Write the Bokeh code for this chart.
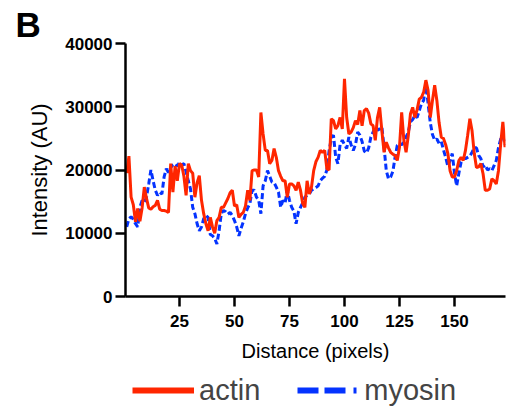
from bokeh.plotting import figure
from bokeh.layouts import column
from bokeh.models import Range1d, FixedTicker, Legend, LegendItem
from bokeh.embed import file_html
from bokeh.resources import INLINE

distance = list(range(1, 174))
actin = [
    19500, 22200, 15700, 14500, 11800, 13900, 11900, 14000, 17300, 15500,
    14000, 13800, 14200, 14400, 15200, 13800, 13600, 13600, 13500, 13300,
    21000, 16500, 20600, 18300, 21000, 20800, 19000, 16000, 21000, 19900,
    19500, 15700, 18000, 19100, 15200, 13100, 11500, 10400, 12500, 11000,
    10000, 12000, 12500, 14100, 14100, 14800, 15500, 16400, 16800, 14300,
    14500, 12500, 13000, 13300, 14300, 16800, 15200, 19900, 20000, 20000,
    18900, 29100, 25700, 23100, 23100, 21000, 21500, 23400, 22000, 19900,
    19000, 18300, 18300, 15700, 17800, 17800, 17500, 16800, 18100, 16800,
    14700, 14100, 18300, 16200, 17300, 19900, 21300, 22000, 23100, 22800,
    23100, 20200, 20000, 28100, 27800, 26500, 27000, 28300, 26500, 34400,
    28300, 25700, 26000, 26700, 27800, 27200, 29400, 27000, 29400, 29700,
    29000, 27300, 27000, 24700, 28300, 29900, 26200, 22800, 24400, 23500,
    22800, 22500, 22300, 21500, 23600, 29100, 24700, 22800, 25400, 28900,
    29900, 28300, 29500, 31200, 31500, 32300, 34200, 32600, 28300, 31000,
    33400, 31000, 27500, 25200, 25000, 24000, 22600, 19900, 18900, 18900,
    19900, 21500, 22000, 21500, 23100, 25500, 28100, 26200, 22600, 20400,
    20500, 21000, 19400, 16800, 16800, 17000, 18600, 18300, 17800, 19900,
    24100, 27600, 23600,
]
myosin = [
    11000, 12300, 12600, 12200, 11500, 11000, 14100, 15200, 14900, 15700,
    17800, 20000, 18300, 16800, 16000, 16500, 16200, 18900, 20200, 19600,
    20400, 20800, 21000, 20600, 21200, 20800, 21000, 19700, 18300, 17000,
    14100, 13100, 11500, 10400, 11000, 12300, 12800, 12500, 9800, 9600,
    9200, 8300, 10400, 13100, 13600, 13400, 13000, 13300, 12800, 12000,
    11000, 9600, 10800, 11800, 13100, 14000, 14700, 16800, 16800, 15700,
    15200, 13100, 17500, 18300, 19900, 19000, 18100, 18000, 17300, 16500,
    14100, 15200, 14800, 16800, 15200, 14100, 13500, 11500, 13300, 14100,
    14800, 15700, 16000, 16200, 16800, 17000, 17200, 17500, 18300, 18700,
    19000, 20000, 23000, 25000, 25500, 22000, 21000, 24000, 24700, 24000,
    23400, 25200, 24000, 23100, 24000, 26000, 25500, 24500, 23000, 22700,
    23500, 25200, 26000, 26800, 26300, 26500, 26800, 23600, 19900, 18600,
    18900, 19800, 22000, 23900, 24200, 24000, 24400, 25200, 26000, 27600,
    28000, 28600, 28300, 29400, 30500, 31000, 33900, 30500, 27500, 25600,
    24700, 24900, 24200, 24500, 23200, 22000, 20600, 21500, 22600, 19500,
    17500, 19500, 21200, 21800, 21800, 22000, 22200, 22800, 23500, 23500,
    22300, 21800, 20500, 20800, 20000, 20200, 19900, 20700, 21500, 23500,
    24900, 25400, 24000,
]
x_ticks = [25, 50, 75, 100, 125, 150]
y_ticks = [0, 10000, 20000, 30000, 40000]
series_names = ["actin", "myosin"]

RED = "#FF2600"
BLUE = "#0433FF"
FONT = "Liberation Sans"
NAN = float("nan")

p = figure(width=507, height=368, output_backend="svg", toolbar_location=None,
           x_range=Range1d(0.45, 173.2), y_range=Range1d(0, 40000),
           min_border_left=125, min_border_right=2, min_border_top=43, min_border_bottom=72)
p.outline_line_color = None
p.xgrid.visible = False
p.ygrid.visible = False
p.background_fill_color = "white"
p.border_fill_color = "white"

p.title.text = "B"
p.title.align = "left"
p.title.offset = -110
p.title.standoff = 0
p.title.text_font = FONT
p.title.text_font_style = "bold"
p.title.text_font_size = "35px"
p.title.text_color = "black"

p.line(distance, myosin, line_color=BLUE, line_width=3, line_dash="6 3")
p.line(distance, actin, line_color=RED, line_width=3)

for ax in (p.xaxis[0], p.yaxis[0]):
    ax.axis_line_width = 2.5
    ax.axis_line_color = "black"
    ax.major_tick_line_width = 2.5
    ax.major_tick_line_color = "black"
    ax.major_tick_out = 10
    ax.major_tick_in = 0
    ax.minor_tick_out = 0
    ax.minor_tick_in = 0
    ax.major_label_text_font = FONT
    ax.major_label_text_font_style = "bold"
    ax.major_label_text_font_size = "17px"
    ax.major_label_text_color = "black"
    ax.axis_label_text_font = FONT
    ax.axis_label_text_font_style = "normal"
    ax.axis_label_text_color = "black"

p.xaxis.ticker = FixedTicker(ticks=x_ticks)
p.yaxis.ticker = FixedTicker(ticks=y_ticks)
p.yaxis.major_label_overrides = {t: str(t) for t in y_ticks}
p.xaxis.axis_label = "Distance (pixels)"
p.yaxis.axis_label = "Intensity (AU)"
p.xaxis.axis_label_text_font_size = "20px"
p.yaxis.axis_label_text_font_size = "22px"
p.xaxis.major_label_standoff = 8
p.yaxis.major_label_standoff = 3
p.xaxis.axis_label_standoff = 10
p.yaxis.axis_label_standoff = 10

# legend strip below the chart
lg = figure(width=507, height=40, output_backend="svg", toolbar_location=None,
            x_range=Range1d(0, 1), y_range=Range1d(0, 1),
            x_axis_location=None, y_axis_location=None,
            min_border_left=0, min_border_right=0, min_border_top=0, min_border_bottom=0)
lg.outline_line_color = None
lg.xgrid.visible = False
lg.ygrid.visible = False
lg.background_fill_color = "white"
lg.border_fill_color = "white"
l_ac = lg.line([NAN], [NAN], line_color=RED, line_width=6)
l_my = lg.line([NAN], [NAN], line_color=BLUE, line_width=6, line_dash="21 6 21 8 3 10")

legend = Legend(items=[LegendItem(label=series_names[0], renderers=[l_ac]),
                       LegendItem(label=series_names[1], renderers=[l_my])],
                orientation="horizontal", location=(7, 0),
                label_text_font=FONT, label_text_font_size="29px",
                glyph_width=62, glyph_height=36, label_height=36,
                label_standoff=5, spacing=37,
                padding=0, margin=0, border_line_color=None,
                background_fill_alpha=0)
lg.add_layout(legend, "center")

layout = column(p, lg, spacing=0)
open("out.html", "w").write(file_html(layout, INLINE))
